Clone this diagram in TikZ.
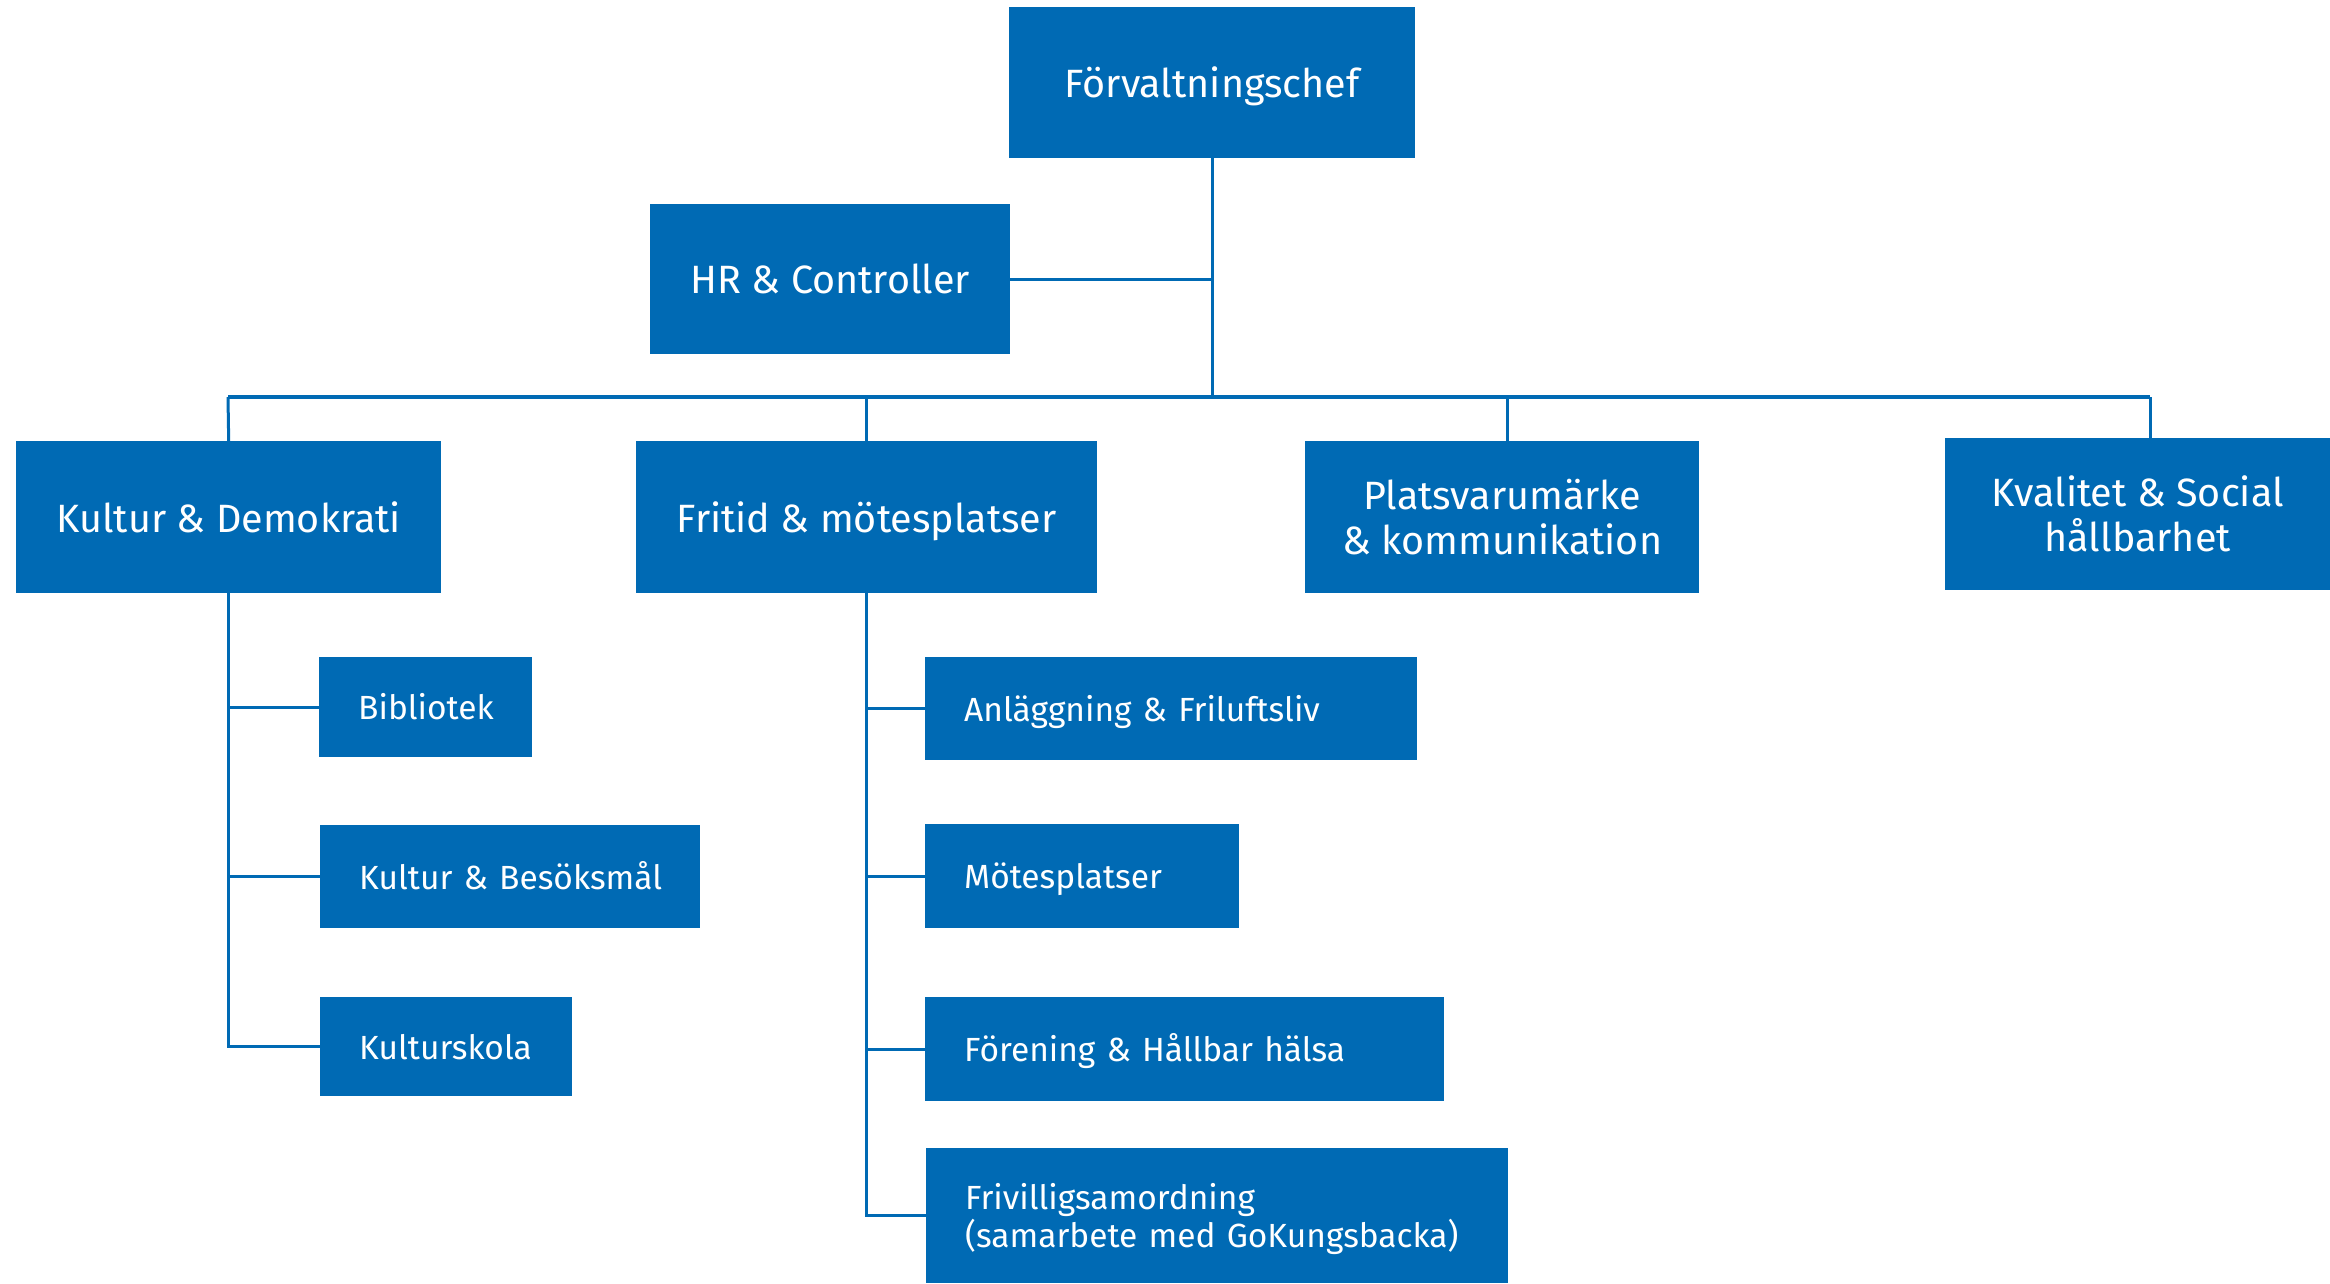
\documentclass[tikz,border=0pt]{standalone}
\usepackage{fontspec}
\setmainfont{Fira Sans}
\definecolor{kblue}{HTML}{006AB4}
\begin{document}
\begin{tikzpicture}[x=1pt,y=-1pt,
  box/.style={fill=kblue,text=white,draw=none,inner sep=0pt,font=\fontsize{39.5}{45}\selectfont,align=center,anchor=north west},
  sub/.style={fill=kblue,text=white,draw=none,inner ysep=0pt,inner xsep=39pt,font=\fontsize{33.5}{38}\selectfont,align=left,anchor=north west},
  one/.style={execute at begin node={\vphantom{Åg}}},
  link/.style={draw=kblue,line width=3pt}]
\useasboundingbox[fill=white] (0,0) rectangle (2330,1283);
% level 1
\node[box,one,minimum width=406pt,minimum height=151pt] (chef) at (1009,7) {Förvaltningschef};
\node[box,one,minimum width=360pt,minimum height=150pt] (hr) at (650,204) {HR \& Controller};
% level 2
\node[box,one,minimum width=425pt,minimum height=152pt] (kd) at (16,441) {Kultur \& Demokrati};
\node[box,one,minimum width=461pt,minimum height=152pt] (fm) at (636,441) {Fritid \& mötesplatser};
\node[box,minimum width=394pt,minimum height=152pt] (pk) at (1305,441) {Platsvarumärke\\\& kommunikation};
\node[box,minimum width=385pt,minimum height=152pt] (ks) at (1945,438) {Kvalitet \& Social\\hållbarhet};
% level 3 left
\node[sub,one,minimum width=213pt,minimum height=100pt,text width=135pt] (bib) at (319,657) {\mbox{Bibliotek}};
\node[sub,one,minimum width=380pt,minimum height=103pt,text width=302pt] (kb) at (320,825) {\mbox{Kultur \& Besöksmål}};
\node[sub,one,minimum width=252pt,minimum height=99pt,text width=174pt] (ksk) at (320,997) {\mbox{Kulturskola}};
% level 3 right
\node[sub,one,minimum width=492pt,minimum height=103pt,text width=414pt] (af) at (925,657) {\mbox{Anläggning \& Friluftsliv}};
\node[sub,one,minimum width=314pt,minimum height=104pt,text width=236pt] (mp) at (925,824) {\mbox{Mötesplatser}};
\node[sub,one,minimum width=519pt,minimum height=104pt,text width=441pt] (fh) at (925,997) {\mbox{Förening \& Hållbar hälsa}};
\node[sub,one,minimum width=582pt,minimum height=135pt,text width=504pt] (fs) at (926,1148) {\mbox{Frivilligsamordning}\\\mbox{(samarbete med GoKungsbacka)}};
% bus coordinates
\coordinate (bl) at (228,397);
\coordinate (bm) at (chef.south |- bl);
\coordinate (b3) at (1507,397);
\coordinate (br) at (2150,397);
% connectors
\draw[link] (chef.south) -- (bm);
\draw[link] (hr.east) -- (hr.east -| chef.south);
\draw[link,line width=4pt] (bl) -- (br);
\draw[link] (bl) -- (kd.north);
\draw[link] (fm.north |- bl) -- (fm.north);
\draw[link] (b3) -- (b3 |- pk.north);
\draw[link] (br) -- (br |- ks.north);
\draw[link] (kd.south) |- (ksk.west);
\draw[link] (bib.west) -- (bib.west -| kd.south);
\draw[link] (kb.west) -- (kb.west -| kd.south);
\draw[link] (fm.south) |- (fs.west);
\draw[link] (af.west) -- (af.west -| fm.south);
\draw[link] (mp.west) -- (mp.west -| fm.south);
\draw[link] (fh.west) -- (fh.west -| fm.south);
\end{tikzpicture}
\end{document}
